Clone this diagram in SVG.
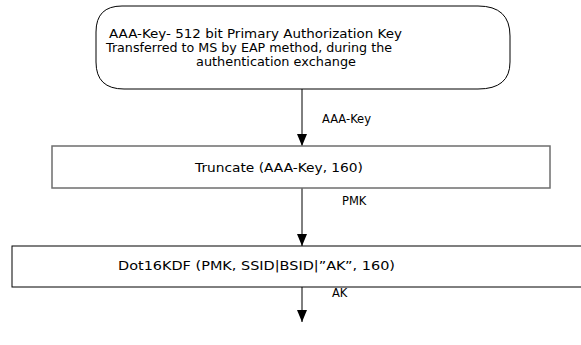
<svg xmlns="http://www.w3.org/2000/svg" width="581" height="345" viewBox="0 0 581 345">
<style>
text{font-family:"DejaVu Sans","Liberation Sans",sans-serif;font-size:11.5px;fill:#000}
.box{fill:#fff;stroke:#000;stroke-width:1}
.grey{stroke:#6e6e6e;stroke-width:1.5}
.conn line{stroke:#000;stroke-width:1}
</style>
<defs>
<marker id="arr" markerWidth="12" markerHeight="10" refX="12" refY="5" orient="auto" markerUnits="userSpaceOnUse">
<path d="M0,0 L12,5 L0,10 Z" fill="#000"/>
</marker>
</defs>
<rect width="581" height="345" fill="#fff"/>
<g id="conns" class="conn">
<line x1="302" y1="89" x2="302" y2="146" marker-end="url(#arr)"/>
<line x1="302" y1="188" x2="302" y2="246" marker-end="url(#arr)"/>
<line x1="302" y1="287" x2="302" y2="322" marker-end="url(#arr)"/>
</g>
<g id="labels">
<text x="322" y="123">AAA-Key</text>
<text x="342" y="205">PMK</text>
<text x="332" y="297">AK</text>
</g>
<g id="n1">
<path class="box" d="M122,6 L478,6 Q510,6 510,36 L510,62 Q510,89 478,89 L124,89 Q96,89 96,62 L96,32 Q96,6 122,6 Z"/>
<text x="109" y="38" textLength="293" lengthAdjust="spacingAndGlyphs">AAA-Key- 512 bit Primary Authorization Key</text>
<text x="106" y="52" textLength="286" lengthAdjust="spacingAndGlyphs">Transferred to MS by EAP method, during the</text>
<text x="196" y="66" textLength="160" lengthAdjust="spacingAndGlyphs">authentication exchange</text>
</g>
<g id="n2">
<rect class="box grey" x="52" y="146" width="498" height="42"/>
<text x="195" y="172" textLength="168" lengthAdjust="spacingAndGlyphs">Truncate (AAA-Key, 160)</text>
</g>
<g id="n3">
<rect class="box" x="12" y="246" width="575" height="41"/>
<text x="118" y="270" textLength="277" lengthAdjust="spacingAndGlyphs">Dot16KDF (PMK, SSID|BSID|”AK”, 160)</text>
</g>
</svg>
